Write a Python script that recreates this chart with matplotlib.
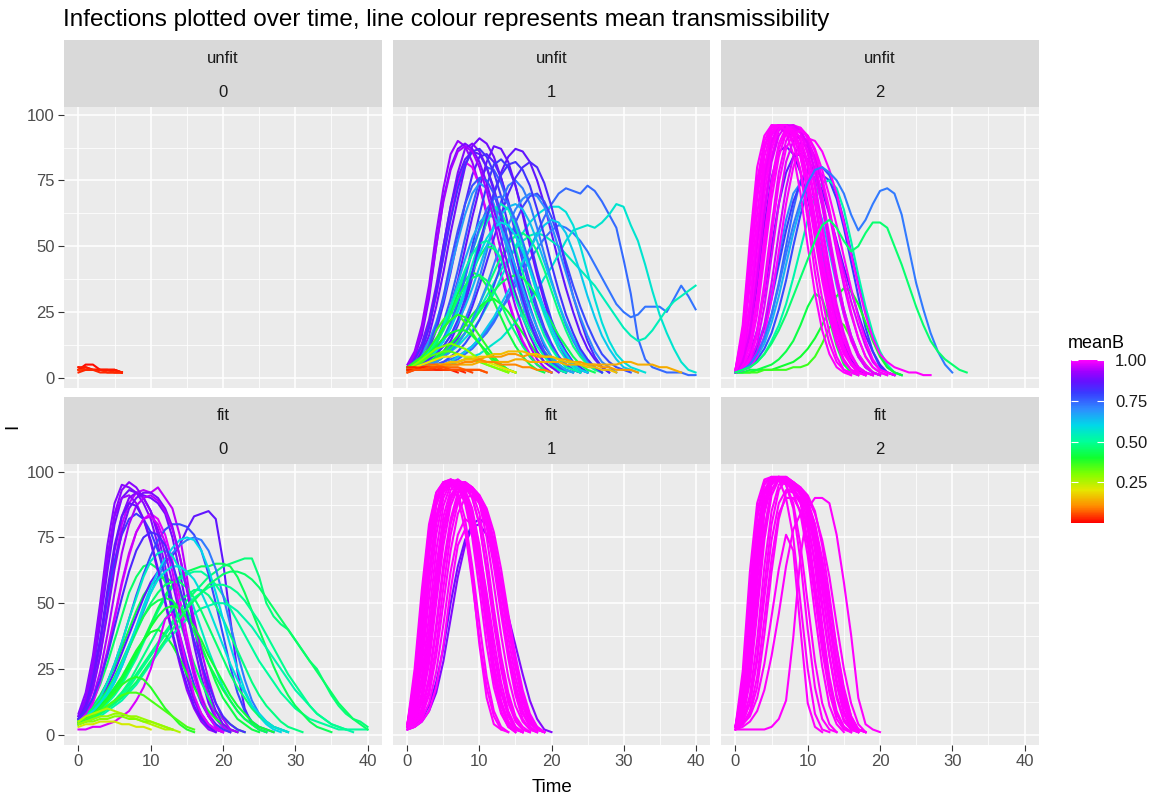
import numpy as np
import matplotlib.pyplot as plt
from matplotlib.colors import LinearSegmentedColormap, Normalize
from matplotlib.cm import ScalarMappable
from matplotlib.ticker import MultipleLocator

plt.rcParams['font.family'] = ['Liberation Sans', 'DejaVu Sans']

# every run: mean transmissibility (meanB) and infections I at t = 0, 1, 2, ...
unfit0_b = [0.02, 0.03, 0.01, 0.04, 0.02, 0.03]
unfit0_I = [
    [3, 4, 3, 3, 3, 2, 2],
    [4, 3, 3, 3, 3, 3, 2],
    [3, 5, 5, 3, 3, 3, 2],
    [3, 3, 3, 3, 2, 2, 2],
    [4, 4, 3, 3, 3, 3, 2],
    [2, 3, 3, 2, 2, 2, 2],
]

unfit1_b = [0.88, 0.90, 0.86, 0.92, 0.84, 0.97, 0.76, 0.74, 0.73, 0.57,
            0.54, 0.58, 0.80, 0.72, 0.78, 0.87, 0.83, 0.50, 0.45, 0.42,
            0.48, 0.36, 0.40, 0.62, 0.68, 0.82, 0.64, 0.44, 0.55, 0.70,
            0.89, 0.85, 0.77, 0.74, 0.66, 0.60, 0.52, 0.46, 0.81, 0.93,
            0.41, 0.34, 0.30, 0.38, 0.20, 0.12, 0.14, 0.16, 0.10, 0.08,
            0.02, 0.03, 0.05, 0.06]
unfit1_I = [
    [3, 5, 9, 16, 27, 40, 55, 68, 80, 88, 91, 89, 84, 76, 66, 55, 44, 34, 25, 18, 12, 8, 5, 3, 2],
    [4, 7, 13, 22, 35, 50, 65, 78, 87, 89, 86, 80, 71, 60, 49, 38, 28, 20, 14, 9, 6, 4, 2],
    [3, 3, 4, 5, 7, 10, 14, 20, 28, 38, 49, 60, 70, 78, 84, 87, 86, 82, 75, 66, 55, 44, 34, 25, 17, 11, 7, 4, 2],
    [5, 10, 20, 35, 55, 72, 85, 90, 88, 82, 73, 62, 50, 39, 29, 20, 13, 8, 5, 3, 2],
    [3, 4, 7, 11, 18, 28, 40, 53, 66, 77, 84, 85, 82, 76, 67, 57, 46, 36, 27, 19, 13, 8, 5, 3, 2],
    [4, 6, 11, 19, 31, 46, 61, 74, 82, 80, 73, 63, 51, 40, 30, 21, 14, 9, 5, 3, 2],
    [3, 4, 6, 9, 14, 21, 30, 41, 53, 65, 75, 80, 79, 74, 66, 56, 45, 35, 26, 18, 12, 8, 5, 3, 2],
    [3, 3, 3, 4, 4, 5, 6, 7, 9, 11, 14, 17, 21, 26, 31, 37, 43, 49, 55, 61, 66, 70, 72, 71, 70, 73, 71, 67, 62, 57,
     45, 32, 15, 7, 4, 3, 2, 2, 2, 1, 1],
    [3, 3, 4, 4, 5, 6, 7, 8, 10, 12, 15, 18, 22, 26, 30, 35, 40, 45, 49, 53, 56, 58, 57, 55, 52, 48, 43, 38, 33, 28,
     25, 23, 24, 27, 27, 27, 25, 30, 35, 31, 26],
    [3, 3, 3, 4, 4, 5, 5, 6, 7, 8, 9, 11, 13, 15, 18, 21, 25, 29, 33, 38, 42, 47, 52, 56, 57, 58, 57, 59, 62, 66,
     65, 58, 52, 43, 33, 24, 17, 11, 6, 3, 2],
    [3, 3, 4, 5, 6, 8, 10, 13, 17, 21, 26, 31, 36, 41, 45, 49, 52, 54, 55, 54, 52, 50, 47, 44, 41, 38, 35, 31, 27, 23,
     19, 16, 14, 15, 18, 22, 26, 29, 31, 33, 35],
    [3, 3, 4, 5, 6, 8, 10, 12, 15, 18, 22, 27, 32, 38, 44, 50, 55, 59, 62, 64, 65, 65, 63, 58, 50, 40, 30, 21, 14, 9, 6, 4, 3, 2],
    [3, 4, 5, 7, 10, 14, 20, 28, 38, 50, 62, 73, 81, 83, 80, 73, 63, 52, 41, 31, 22, 15, 10, 6, 4, 2],
    [3, 3, 4, 5, 7, 9, 12, 16, 22, 29, 38, 48, 58, 67, 73, 75, 72, 66, 57, 47, 37, 28, 20, 14, 9, 6, 4, 2],
    [3, 3, 3, 4, 5, 6, 8, 10, 13, 17, 22, 28, 35, 43, 51, 59, 65, 69, 70, 67, 61, 53, 44, 35, 27, 20, 14, 9, 6, 4, 3, 2],
    [3, 4, 6, 9, 13, 19, 27, 37, 49, 61, 72, 82, 88, 87, 82, 73, 62, 50, 39, 29, 20, 13, 8, 5, 3, 2],
    [3, 3, 4, 5, 6, 8, 11, 15, 20, 27, 35, 44, 53, 62, 70, 76, 80, 82, 80, 74, 65, 54, 42, 31, 22, 14, 8, 4, 2],
    [4, 5, 7, 10, 14, 19, 25, 32, 40, 48, 56, 62, 65, 63, 57, 49, 40, 31, 23, 16, 11, 7, 4, 3, 2],
    [3, 4, 6, 8, 11, 15, 20, 26, 33, 40, 46, 50, 49, 45, 39, 32, 25, 19, 14, 10, 7, 4, 3, 2],
    [4, 5, 7, 10, 14, 19, 25, 32, 37, 40, 39, 35, 29, 23, 17, 12, 8, 5, 3, 2],
    [3, 3, 4, 5, 6, 8, 10, 13, 17, 22, 28, 34, 40, 46, 51, 54, 55, 53, 48, 41, 33, 25, 18, 12, 8, 5, 3, 2],
    [4, 6, 9, 13, 18, 22, 25, 24, 21, 17, 13, 9, 6, 4, 3, 2],
    [3, 4, 5, 6, 8, 10, 13, 16, 20, 24, 27, 29, 30, 28, 25, 21, 17, 13, 9, 6, 4, 3, 2],
    [3, 3, 3, 4, 4, 5, 6, 8, 10, 12, 15, 19, 23, 28, 33, 38, 44, 49, 54, 58, 60, 59, 55, 48, 40, 31, 23, 16, 11, 7, 4, 3, 2],
    [4, 6, 9, 14, 21, 30, 41, 52, 62, 70, 74, 72, 66, 57, 47, 37, 28, 20, 14, 9, 6, 4, 2],
    [4, 7, 12, 20, 32, 46, 60, 72, 81, 86, 87, 84, 78, 69, 58, 47, 36, 27, 19, 12, 8, 5, 3, 2],
    [3, 4, 5, 7, 9, 12, 16, 21, 27, 34, 42, 50, 57, 62, 65, 66, 64, 59, 52, 44, 36, 28, 21, 15, 10, 6, 4, 2],
    [3, 4, 5, 6, 7, 9, 11, 14, 17, 21, 25, 29, 33, 36, 38, 39, 38, 35, 31, 26, 21, 16, 12, 8, 5, 3, 2],
    [3, 4, 5, 7, 10, 14, 19, 26, 34, 43, 52, 59, 64, 66, 64, 58, 50, 41, 32, 24, 17, 11, 7, 4, 2],
    [3, 3, 4, 5, 6, 8, 10, 13, 17, 22, 28, 35, 43, 51, 58, 64, 68, 70, 69, 65, 58, 49, 40, 31, 23, 16, 10, 6, 4, 2],
    [4, 8, 16, 30, 50, 68, 80, 87, 89, 87, 82, 74, 64, 53, 42, 32, 23, 16, 10, 6, 4, 2],
    [3, 5, 10, 19, 33, 50, 65, 76, 83, 86, 85, 80, 72, 62, 51, 40, 30, 21, 14, 9, 5, 3, 2],
    [3, 4, 7, 12, 20, 31, 44, 56, 66, 73, 76, 75, 70, 62, 52, 42, 32, 23, 16, 10, 6, 4, 2],
    [3, 4, 5, 7, 10, 15, 21, 29, 38, 48, 57, 64, 68, 69, 66, 60, 52, 43, 34, 26, 19, 13, 8, 5, 3, 2],
    [3, 4, 6, 9, 13, 19, 27, 36, 45, 53, 59, 62, 61, 57, 50, 42, 34, 26, 19, 13, 8, 5, 3, 2],
    [3, 4, 5, 7, 10, 14, 19, 25, 32, 40, 47, 53, 57, 59, 58, 54, 48, 41, 33, 26, 19, 13, 9, 5, 3, 2],
    [4, 5, 7, 10, 14, 20, 27, 34, 41, 47, 51, 52, 50, 45, 38, 30, 23, 17, 12, 8, 5, 3, 2],
    [3, 4, 6, 9, 13, 18, 24, 30, 35, 38, 39, 37, 33, 28, 22, 17, 12, 8, 5, 3, 2],
    [3, 4, 5, 7, 9, 12, 16, 22, 30, 40, 51, 61, 70, 77, 81, 82, 79, 73, 64, 54, 43, 33, 24, 17, 11, 7, 4, 2],
    [4, 9, 18, 32, 50, 67, 79, 86, 88, 86, 80, 71, 60, 48, 37, 27, 19, 12, 7, 4, 2],
    [4, 5, 7, 9, 12, 15, 17, 18, 18, 16, 13, 10, 7, 5, 3, 2],
    [4, 5, 6, 8, 9, 10, 10, 9, 8, 7, 6, 5, 4, 3, 2],
    [4, 5, 7, 9, 11, 12, 13, 12, 11, 9, 7, 5, 4, 3, 2],
    [4, 6, 8, 11, 15, 19, 22, 24, 23, 20, 16, 12, 8, 5, 3, 2],
    [3, 4, 5, 6, 7, 8, 8, 9, 8, 8, 7, 6, 5, 4, 3, 2],
    [3, 3, 4, 4, 5, 5, 6, 6, 7, 7, 7, 8, 8, 8, 9, 9, 8, 9, 8, 8, 8, 7, 7, 6, 6, 5, 5, 4, 4, 3, 3, 3, 2],
    [3, 3, 3, 4, 4, 4, 5, 5, 5, 5, 6, 6, 6, 6, 6, 7, 7, 6, 6, 6, 6, 6, 5, 5, 5, 5, 5, 5, 5, 5, 6, 6, 5, 5, 5, 4, 4, 3, 2],
    [3, 3, 4, 4, 5, 5, 6, 6, 7, 7, 8, 8, 9, 9, 10, 10, 10, 9, 9, 8, 8, 7, 6, 6, 5, 4, 4, 3, 3, 2],
    [3, 3, 4, 4, 4, 5, 5, 5, 6, 6, 7, 6, 6, 5, 5, 5, 4, 4, 3, 3, 2],
    [3, 4, 4, 5, 5, 4, 4, 4, 3, 3, 3, 2],
    [3, 3, 4, 4, 3, 3, 3, 2],
    [4, 4, 3, 3, 3, 3, 3, 3, 2],
    [2, 3, 3, 3, 4, 3, 3, 3, 3, 2],
    [2, 3, 3, 4, 4, 4, 3, 3, 3, 3, 3, 2],
]

unfit2_b = [0.75, 0.70, 0.88, 0.85, 0.78, 0.80, 0.65, 0.52, 0.40, 0.36, 0.42,
            1.0, 1.0, 0.99, 1.0, 0.98, 1.0, 1.0, 0.97, 1.0, 0.99, 1.0, 1.0,
            1.0, 0.99, 1.0, 1.0, 0.98, 1.0, 1.0, 1.0,
            0.72, 0.46]
unfit2_I = [
    [2, 3, 5, 9, 15, 24, 36, 50, 64, 75, 79, 76, 66, 52, 38, 26, 16, 9, 4, 2, 1],
    [2, 4, 7, 12, 20, 32, 46, 60, 70, 74, 70, 60, 47, 34, 23, 14, 8, 4, 2, 1],
    [2, 6, 16, 35, 58, 76, 86, 88, 85, 78, 68, 56, 43, 31, 21, 13, 7, 3, 1],
    [2, 4, 9, 18, 32, 50, 66, 78, 84, 85, 83, 78, 71, 62, 52, 42, 33, 24, 16, 10, 5, 2, 1],
    [2, 3, 4, 7, 11, 17, 26, 37, 50, 62, 72, 79, 80, 77, 70, 60, 48, 36, 25, 16, 9, 4, 2, 1],
    [2, 3, 6, 11, 19, 30, 43, 56, 67, 74, 78, 78, 77, 75, 68, 57, 44, 31, 19, 10, 4, 2, 1],
    [2, 3, 5, 8, 13, 21, 31, 43, 55, 65, 70, 68, 60, 48, 35, 24, 15, 8, 4, 2, 1],
    [2, 3, 4, 6, 9, 14, 20, 28, 38, 49, 60, 69, 74, 75, 72, 64, 52, 39, 27, 17, 10, 5, 2, 1],
    [2, 2, 2, 3, 3, 3, 4, 5, 6, 8, 11, 15, 20, 26, 31, 34, 33, 28, 21, 14, 8, 4, 2, 1],
    [2, 2, 2, 2, 3, 3, 3, 3, 4, 4, 5, 8, 13, 19, 22, 20, 15, 9, 5, 2, 1],
    [2, 2, 3, 3, 4, 5, 7, 10, 14, 20, 27, 32, 30, 22, 12, 5, 2, 1],
    [2, 12, 35, 62, 84, 94, 96, 95, 90, 78, 60, 40, 24, 13, 6, 3, 2, 1],
    [3, 18, 48, 75, 90, 96, 95, 93, 85, 70, 50, 32, 18, 9, 4, 2, 1],
    [2, 6, 18, 40, 65, 84, 94, 96, 95, 90, 80, 66, 50, 34, 21, 12, 6, 3, 2, 1],
    [2, 4, 10, 24, 46, 68, 84, 93, 95, 94, 88, 78, 65, 50, 36, 24, 14, 8, 4, 2, 1],
    [2, 3, 6, 13, 27, 46, 66, 82, 90, 92, 90, 84, 74, 62, 48, 35, 24, 15, 8, 4, 2, 1],
    [3, 8, 24, 50, 74, 89, 95, 96, 94, 87, 74, 58, 41, 27, 16, 9, 5, 2, 1],
    [2, 5, 14, 31, 54, 75, 89, 95, 96, 93, 85, 72, 56, 40, 26, 15, 8, 4, 2, 1],
    [2, 3, 5, 10, 20, 36, 55, 72, 84, 89, 88, 83, 74, 63, 51, 40, 29, 20, 12, 6, 3, 2, 1],
    [2, 10, 28, 55, 78, 92, 96, 95, 92, 84, 71, 55, 39, 25, 14, 7, 3, 2, 1],
    [2, 4, 8, 18, 36, 58, 78, 90, 95, 95, 91, 82, 69, 54, 39, 26, 16, 9, 5, 2, 1],
    [2, 3, 4, 8, 16, 30, 48, 66, 80, 88, 91, 90, 86, 79, 70, 59, 47, 35, 24, 15, 9, 6, 4, 3, 2, 2, 1, 1],
    [2, 7, 20, 44, 70, 87, 95, 96, 95, 91, 82, 68, 52, 37, 24, 14, 8, 4, 2, 1],
    [3, 14, 40, 68, 87, 95, 96, 96, 94, 88, 76, 60, 44, 30, 18, 10, 5, 2, 1],
    [2, 8, 26, 52, 76, 90, 96, 96, 95, 93, 86, 74, 58, 42, 28, 17, 9, 4, 2, 1],
    [2, 5, 12, 28, 50, 72, 87, 94, 96, 95, 92, 86, 76, 64, 50, 37, 25, 15, 8, 4, 2, 1],
    [3, 16, 44, 72, 88, 95, 96, 95, 92, 84, 70, 53, 37, 23, 13, 6, 3, 1],
    [2, 6, 17, 38, 62, 82, 92, 96, 96, 94, 89, 79, 66, 51, 37, 25, 15, 8, 4, 2, 1],
    [2, 3, 7, 16, 33, 54, 74, 87, 93, 94, 92, 87, 79, 69, 58, 46, 34, 23, 14, 7, 3, 2, 1],
    [2, 9, 28, 56, 80, 93, 96, 96, 93, 87, 76, 61, 45, 31, 19, 11, 5, 2, 1],
    [3, 20, 52, 80, 92, 96, 96, 94, 89, 79, 64, 46, 30, 17, 8, 3, 1],
    [2, 3, 5, 9, 15, 24, 35, 47, 58, 67, 74, 79, 80, 78, 75, 70, 62, 56, 60, 66, 71, 72, 70, 62, 49, 36, 26, 17, 10, 5, 2],
    [2, 3, 4, 6, 9, 13, 18, 24, 31, 38, 45, 52, 58, 60, 57, 52, 48, 50, 55, 59, 59, 57, 50, 43, 35, 27, 20, 14, 10, 7, 5, 3, 2],
]

fit0_b = [0.90, 0.88, 0.95, 0.45, 0.92, 0.42, 0.86, 0.50, 0.98, 0.47,
          0.90, 0.78, 0.44, 0.72, 0.80, 0.48, 0.55, 0.60, 0.40, 0.52,
          0.91, 0.46, 0.89, 0.43, 0.94, 0.49, 0.87, 0.41, 0.96, 0.58,
          0.83, 0.45, 0.97, 0.38, 0.35, 0.25, 0.30, 0.28, 0.22]
fit0_I = [
    [8, 16, 30, 50, 72, 88, 95, 94, 92, 88, 82, 72, 60, 46, 33, 22, 13, 7, 3, 2, 1],
    [6, 12, 24, 42, 62, 80, 90, 93, 92, 91, 90, 88, 84, 75, 62, 48, 34, 22, 12, 6, 3, 1],
    [5, 9, 17, 30, 47, 65, 80, 88, 92, 93, 92, 94, 90, 86, 76, 60, 42, 26, 14, 7, 3, 1],
    [6, 9, 13, 19, 27, 36, 45, 54, 60, 64, 65, 63, 58, 51, 43, 35, 27, 20, 14, 9, 6, 4, 2, 1],
    [7, 14, 28, 48, 68, 83, 90, 91, 88, 82, 73, 62, 50, 38, 27, 17, 10, 5, 2, 1],
    [6, 8, 11, 15, 20, 26, 33, 40, 47, 53, 57, 59, 60, 58, 54, 48, 41, 34, 27, 20, 14, 10, 6, 4, 2, 1],
    [4, 6, 9, 13, 18, 24, 31, 38, 45, 52, 58, 62, 66, 68, 72, 78, 83, 84, 85, 82, 66, 44, 24, 10, 4, 2, 1],
    [4, 5, 7, 9, 12, 15, 19, 24, 29, 35, 41, 47, 52, 56, 59, 61, 62, 62, 60, 57, 53, 48, 43, 38, 33, 28, 24, 20, 16,
     13, 10, 8, 6, 5, 4, 3, 2, 2, 2, 2, 2],
    [4, 7, 12, 20, 31, 44, 57, 68, 77, 82, 84, 82, 76, 66, 52, 38, 25, 15, 8, 4, 2, 1],
    [5, 6, 7, 9, 11, 13, 16, 19, 23, 27, 31, 35, 39, 43, 47, 51, 54, 57, 60, 62, 64, 65, 66, 67, 67, 60, 50, 45, 42,
     40, 36, 32, 28, 25, 20, 15, 11, 8, 6, 5, 3],
    [6, 11, 20, 34, 52, 70, 83, 90, 92, 90, 85, 76, 64, 50, 36, 24, 14, 8, 4, 2, 1],
    [5, 7, 10, 14, 20, 27, 35, 44, 53, 61, 68, 74, 78, 80, 80, 79, 76, 70, 61, 50, 38, 26, 16, 9, 5, 3, 2, 1],
    [5, 6, 8, 10, 13, 16, 20, 25, 30, 36, 42, 48, 53, 57, 60, 62, 63, 64, 64, 65, 65, 64, 60, 54, 47, 40, 33, 26, 20,
     15, 11, 8, 5, 3, 2, 1],
    [4, 6, 8, 11, 15, 20, 26, 33, 40, 47, 54, 60, 65, 69, 72, 74, 75, 74, 70, 63, 53, 42, 31, 21, 13, 8, 5, 3, 2, 1],
    [7, 12, 22, 36, 52, 66, 76, 82, 84, 82, 77, 70, 60, 49, 38, 28, 19, 12, 7, 4, 2, 1],
    [4, 5, 6, 8, 10, 13, 16, 20, 25, 30, 35, 40, 44, 48, 51, 53, 55, 55, 53, 49, 44, 38, 32, 26, 20, 15, 11, 8, 5, 3, 2, 1],
    [5, 7, 10, 14, 20, 27, 35, 44, 52, 60, 66, 69, 70, 68, 63, 56, 48, 40, 32, 25, 18, 13, 9, 6, 4, 2, 1],
    [5, 6, 8, 11, 15, 20, 26, 33, 41, 49, 56, 62, 67, 71, 74, 75, 74, 70, 63, 54, 44, 34, 25, 17, 11, 7, 4, 2, 1],
    [5, 6, 8, 11, 14, 18, 22, 27, 32, 36, 39, 40, 38, 34, 29, 23, 18, 13, 9, 6, 4, 2, 1],
    [4, 5, 6, 7, 9, 11, 13, 16, 19, 23, 27, 31, 35, 38, 41, 44, 46, 48, 49, 50, 50, 49, 47, 44, 41, 37, 33, 29, 25,
     21, 17, 14, 11, 8, 6, 4, 3, 2, 1],
    [7, 13, 25, 44, 66, 84, 93, 96, 94, 90, 85, 78, 69, 58, 46, 34, 23, 14, 7, 3, 1],
    [5, 7, 9, 12, 16, 21, 27, 33, 39, 45, 50, 54, 57, 58, 58, 56, 52, 47, 41, 35, 29, 23, 18, 14, 10, 7, 5, 3, 2, 1],
    [6, 10, 18, 30, 46, 63, 77, 86, 90, 92, 92, 90, 86, 79, 68, 55, 41, 28, 17, 9, 4, 2, 1],
    [6, 8, 10, 13, 17, 22, 28, 34, 40, 45, 49, 51, 52, 51, 48, 44, 39, 33, 27, 22, 17, 13, 9, 6, 4, 2, 1],
    [5, 8, 14, 24, 38, 54, 69, 80, 87, 90, 91, 89, 85, 78, 68, 56, 44, 32, 21, 12, 6, 2, 1],
    [4, 5, 6, 8, 10, 12, 15, 18, 22, 26, 30, 34, 38, 42, 46, 49, 52, 54, 56, 57, 57, 56, 54, 51, 47, 43, 38, 33, 28,
     23, 19, 15, 11, 8, 6, 4, 3, 2],
    [6, 11, 21, 36, 55, 72, 83, 88, 87, 82, 74, 63, 51, 39, 28, 19, 11, 6, 3, 1],
    [5, 6, 8, 10, 13, 17, 21, 26, 31, 36, 41, 45, 48, 49, 48, 45, 41, 36, 30, 25, 20, 15, 11, 8, 5, 3, 2, 1],
    [5, 8, 13, 21, 32, 45, 58, 69, 77, 82, 83, 80, 73, 62, 48, 34, 22, 13, 7, 3, 1],
    [5, 7, 9, 12, 16, 21, 27, 34, 41, 48, 54, 59, 62, 64, 64, 62, 59, 54, 48, 41, 34, 27, 21, 16, 11, 8, 5, 3, 2, 1],
    [6, 9, 14, 21, 30, 41, 52, 62, 70, 75, 77, 76, 72, 65, 56, 46, 36, 27, 19, 12, 7, 4, 2, 1],
    [5, 6, 7, 8, 10, 12, 14, 17, 20, 24, 28, 32, 36, 40, 44, 48, 51, 54, 57, 59, 61, 62, 62, 61, 59, 56, 52, 48, 44,
     40, 36, 32, 28, 24, 20, 16, 12, 9, 6, 4, 2],
    [2, 2, 3, 3, 4, 5, 7, 9, 13, 18, 25, 34, 44, 46, 38, 26, 15, 8, 4, 2, 1],
    [5, 6, 8, 10, 13, 16, 19, 21, 22, 21, 18, 14, 10, 7, 4, 2, 1],
    [5, 6, 7, 9, 11, 13, 15, 16, 16, 15, 13, 11, 9, 7, 5, 3, 2],
    [5, 7, 8, 9, 10, 9, 8, 7, 6, 5, 4, 3, 2, 2, 1],
    [4, 5, 5, 6, 6, 7, 7, 6, 6, 5, 5, 4, 3, 2],
    [4, 5, 6, 7, 7, 8, 8, 7, 7, 6, 5, 4, 3, 2],
    [3, 4, 4, 5, 5, 5, 4, 4, 3, 3, 2],
]

fit1_b = [0.88, 0.90] + [1.0] * 23
fit1_I = [
    [3, 4, 6, 11, 20, 33, 50, 64, 74, 80, 82, 80, 72, 58, 42, 27, 14, 5, 2, 1],
    [2, 3, 5, 9, 16, 28, 44, 60, 72, 79, 80, 76, 68, 57, 45, 34, 23, 13, 6, 2, 1],
    [4, 25, 55, 80, 92, 96, 97, 96, 93, 86, 72, 52, 32, 17, 8, 3, 1],
    [3, 15, 40, 68, 87, 95, 97, 96, 94, 90, 80, 62, 42, 25, 12, 5, 2, 1],
    [3, 8, 22, 45, 70, 87, 95, 97, 95, 92, 84, 68, 48, 30, 16, 7, 3, 1],
    [3, 5, 12, 27, 50, 72, 87, 94, 95, 93, 88, 75, 57, 38, 22, 11, 5, 2, 1],
    [3, 4, 7, 15, 30, 50, 70, 84, 90, 91, 88, 80, 66, 48, 31, 17, 8, 3, 1],
    [2, 3, 5, 9, 18, 34, 55, 72, 78, 60, 34, 14, 4, 2],
    [4, 20, 48, 75, 90, 96, 96, 94, 88, 75, 55, 34, 18, 8, 3, 1],
    [3, 10, 30, 58, 80, 92, 96, 96, 93, 84, 66, 44, 25, 12, 5, 2, 1],
    [3, 6, 16, 36, 60, 80, 91, 95, 95, 93, 89, 82, 70, 54, 37, 22, 11, 4, 2, 1],
    [3, 4, 9, 20, 40, 62, 80, 90, 93, 92, 88, 79, 64, 46, 29, 15, 6, 2, 1],
    [3, 12, 35, 62, 83, 94, 96, 95, 90, 80, 62, 40, 21, 9, 3, 1],
    [3, 7, 19, 40, 64, 83, 93, 96, 96, 94, 90, 83, 72, 58, 42, 27, 15, 7, 3, 1],
    [3, 5, 14, 32, 56, 77, 90, 95, 96, 94, 91, 86, 77, 63, 46, 30, 17, 8, 3, 1],
    [4, 22, 52, 78, 92, 96, 95, 90, 78, 58, 36, 18, 7, 2, 1],
    [3, 14, 40, 68, 88, 95, 96, 92, 82, 64, 42, 22, 9, 3, 1],
    [4, 18, 45, 72, 89, 96, 97, 95, 91, 82, 66, 46, 27, 13, 5, 2, 1],
    [3, 9, 26, 52, 76, 90, 96, 97, 95, 90, 80, 63, 44, 27, 14, 6, 2, 1],
    [3, 6, 14, 30, 54, 76, 89, 95, 96, 94, 90, 82, 68, 50, 33, 19, 9, 3, 1],
    [3, 4, 8, 17, 34, 56, 76, 88, 93, 93, 90, 84, 73, 58, 41, 26, 14, 6, 2, 1],
    [3, 11, 32, 60, 82, 93, 97, 96, 92, 84, 70, 50, 31, 16, 7, 2, 1],
    [4, 16, 42, 70, 88, 95, 96, 94, 89, 78, 60, 40, 23, 11, 4, 1],
    [3, 5, 10, 22, 42, 65, 82, 92, 95, 94, 91, 85, 74, 59, 42, 26, 13, 5, 2, 1],
    [2, 3, 6, 12, 24, 42, 62, 76, 82, 80, 70, 54, 36, 20, 9, 3, 1],
]

fit2_b = [1.0] * 22
fit2_I = [
    [3, 24, 62, 88, 97, 98, 97, 90, 75, 50, 25, 8, 2, 1],
    [3, 15, 45, 75, 92, 97, 98, 97, 95, 92, 85, 70, 50, 30, 14, 5, 2, 1],
    [3, 8, 28, 58, 84, 95, 98, 98, 96, 93, 89, 80, 65, 46, 28, 14, 5, 2, 1],
    [3, 5, 15, 36, 64, 85, 95, 97, 96, 94, 91, 85, 72, 53, 33, 17, 7, 2, 1],
    [2, 4, 9, 22, 44, 67, 84, 90, 90, 85, 72, 52, 32, 16, 6, 2, 1],
    [3, 4, 7, 14, 27, 45, 63, 76, 70, 40, 12, 3, 1],
    [3, 12, 38, 68, 89, 97, 98, 96, 93, 90, 82, 64, 42, 22, 9, 3, 1],
    [3, 6, 20, 46, 74, 91, 97, 98, 96, 94, 90, 84, 74, 60, 42, 25, 12, 4, 1],
    [3, 10, 32, 62, 86, 96, 98, 97, 94, 88, 74, 55, 35, 19, 8, 3, 1],
    [3, 18, 52, 82, 95, 98, 97, 95, 88, 72, 50, 28, 12, 4, 1],
    [2, 5, 12, 28, 52, 74, 88, 93, 92, 88, 80, 66, 48, 30, 15, 6, 2, 1],
    [3, 7, 24, 52, 78, 93, 97, 97, 95, 92, 87, 78, 62, 44, 27, 13, 5, 2, 1],
    [2, 3, 5, 9, 17, 30, 46, 64, 78, 84, 82, 74, 60, 44, 28, 15, 6, 2, 1],
    [3, 20, 56, 85, 96, 98, 98, 95, 86, 66, 40, 18, 6, 2, 1],
    [3, 13, 42, 72, 91, 97, 98, 97, 94, 89, 78, 58, 38, 20, 8, 3, 1],
    [3, 7, 22, 50, 78, 93, 98, 98, 96, 93, 88, 80, 67, 50, 33, 18, 7, 2, 1],
    [3, 5, 12, 30, 57, 80, 93, 97, 96, 93, 88, 78, 62, 43, 25, 11, 4, 1],
    [3, 9, 30, 60, 85, 96, 98, 97, 95, 92, 86, 74, 56, 36, 19, 8, 2, 1],
    [3, 16, 48, 78, 93, 98, 98, 96, 92, 84, 68, 46, 26, 11, 4, 1],
    [2, 4, 8, 18, 38, 62, 82, 92, 94, 92, 86, 76, 60, 42, 25, 12, 4, 1],
    [3, 11, 36, 66, 88, 97, 98, 97, 95, 91, 84, 72, 55, 37, 21, 9, 3, 1],
    [2, 2, 2, 2, 2, 3, 6, 13, 37, 68, 86, 90, 90, 88, 76, 58, 38, 14, 4, 2, 1],
]

panels = [
    ('unfit', '0', unfit0_b, unfit0_I),
    ('unfit', '1', unfit1_b, unfit1_I),
    ('unfit', '2', unfit2_b, unfit2_I),
    ('fit', '0', fit0_b, fit0_I),
    ('fit', '1', fit1_b, fit1_I),
    ('fit', '2', fit2_b, fit2_I),
]

W, H = 1153, 796
fig = plt.figure(figsize=(W / 100, H / 100), dpi=100)

cmap = LinearSegmentedColormap.from_list('rainbowB', [
    (0.0, '#FF0000'), (0.1, '#FF8A00'), (0.2, '#E6E600'), (0.3, '#80FF00'),
    (0.4, '#10FF30'), (0.5, '#00FF99'), (0.6, '#00D8E8'), (0.7, '#2F8CFF'),
    (0.8, '#3A3AFF'), (0.87, '#6610FF'), (0.93, '#A000FF'), (1.0, '#FF00FF')])
norm = Normalize(0, 1.0)


def box(x0, y0, x1, y1):
    # pixel box (top-left origin) -> figure fraction rect
    return [x0 / W, 1 - y1 / H, (x1 - x0) / W, (y1 - y0) / H]


col_x = [(64, 382), (393, 710), (721, 1039)]
rows = [(40, 107, 388), (397, 464, 745)]

for k, (lab1, lab2, bs, runs) in enumerate(panels):
    r, c = divmod(k, 3)
    st, pt, pb = rows[r]
    x0, x1 = col_x[c]

    ax = fig.add_axes(box(x0, pt, x1, pb))
    ax.set_facecolor('#EBEBEB')
    for s in ax.spines.values():
        s.set_visible(False)
    ax.set_xlim(-2, 42)
    ax.set_ylim(-3.9, 102.9)
    ax.xaxis.set_major_locator(MultipleLocator(10))
    ax.xaxis.set_minor_locator(MultipleLocator(5))
    ax.yaxis.set_major_locator(MultipleLocator(25))
    ax.yaxis.set_minor_locator(MultipleLocator(12.5))
    ax.grid(which='major', color='white', lw=1.1)
    ax.grid(which='minor', color='white', lw=0.55)
    ax.set_axisbelow(True)
    ax.tick_params(which='minor', length=0)
    ax.tick_params(which='major', length=4.3, width=0.8, color='#333333',
                   labelcolor='#4D4D4D', labelsize=12, pad=2.5)
    if c != 0:
        ax.tick_params(axis='y', left=False, labelleft=False)
    if r != 1:
        ax.tick_params(axis='x', bottom=False, labelbottom=False)

    for b, I in zip(bs, runs):
        t = np.arange(len(I))
        ax.plot(t, I, color=cmap(norm(b)), lw=1.5, solid_joinstyle='round')

    sax = fig.add_axes(box(x0, st, x1, pt))
    sax.set_facecolor('#D9D9D9')
    sax.set_xticks([])
    sax.set_yticks([])
    for s in sax.spines.values():
        s.set_visible(False)
    sax.text(0.5, 0.72, lab1, ha='center', va='center', fontsize=12, color='#1A1A1A', transform=sax.transAxes)
    sax.text(0.5, 0.22, lab2, ha='center', va='center', fontsize=12, color='#1A1A1A', transform=sax.transAxes)

fig.text(63 / W, 1 - 26 / H, 'Infections plotted over time, line colour represents mean transmissibility',
         fontsize=17.5, color='black', ha='left', va='baseline')
fig.text(552 / W, 1 - 787 / H, 'Time', fontsize=13.5, ha='center', va='center')
fig.text(13 / W, 1 - 426 / H, 'I', fontsize=13.5, ha='center', va='center', rotation=90)

# colour bar legend
cax = fig.add_axes(box(1071, 360, 1104, 523))
cb = fig.colorbar(ScalarMappable(norm=norm, cmap=cmap), cax=cax)
cb.outline.set_visible(False)
cb.set_ticks([0.25, 0.5, 0.75, 1.0])
cb.set_ticklabels(['0.25', '0.50', '0.75', '1.00'])
cax.yaxis.set_ticks_position('both')
cax.tick_params(direction='in', length=5, width=0.8, color='white', labelsize=12,
                labelcolor='#1A1A1A', pad=8, labelleft=False, labelright=True)
fig.text(1068 / W, 1 - 343 / H, 'meanB', fontsize=13, ha='left', va='center')

fig.savefig('out.png', dpi=100)
